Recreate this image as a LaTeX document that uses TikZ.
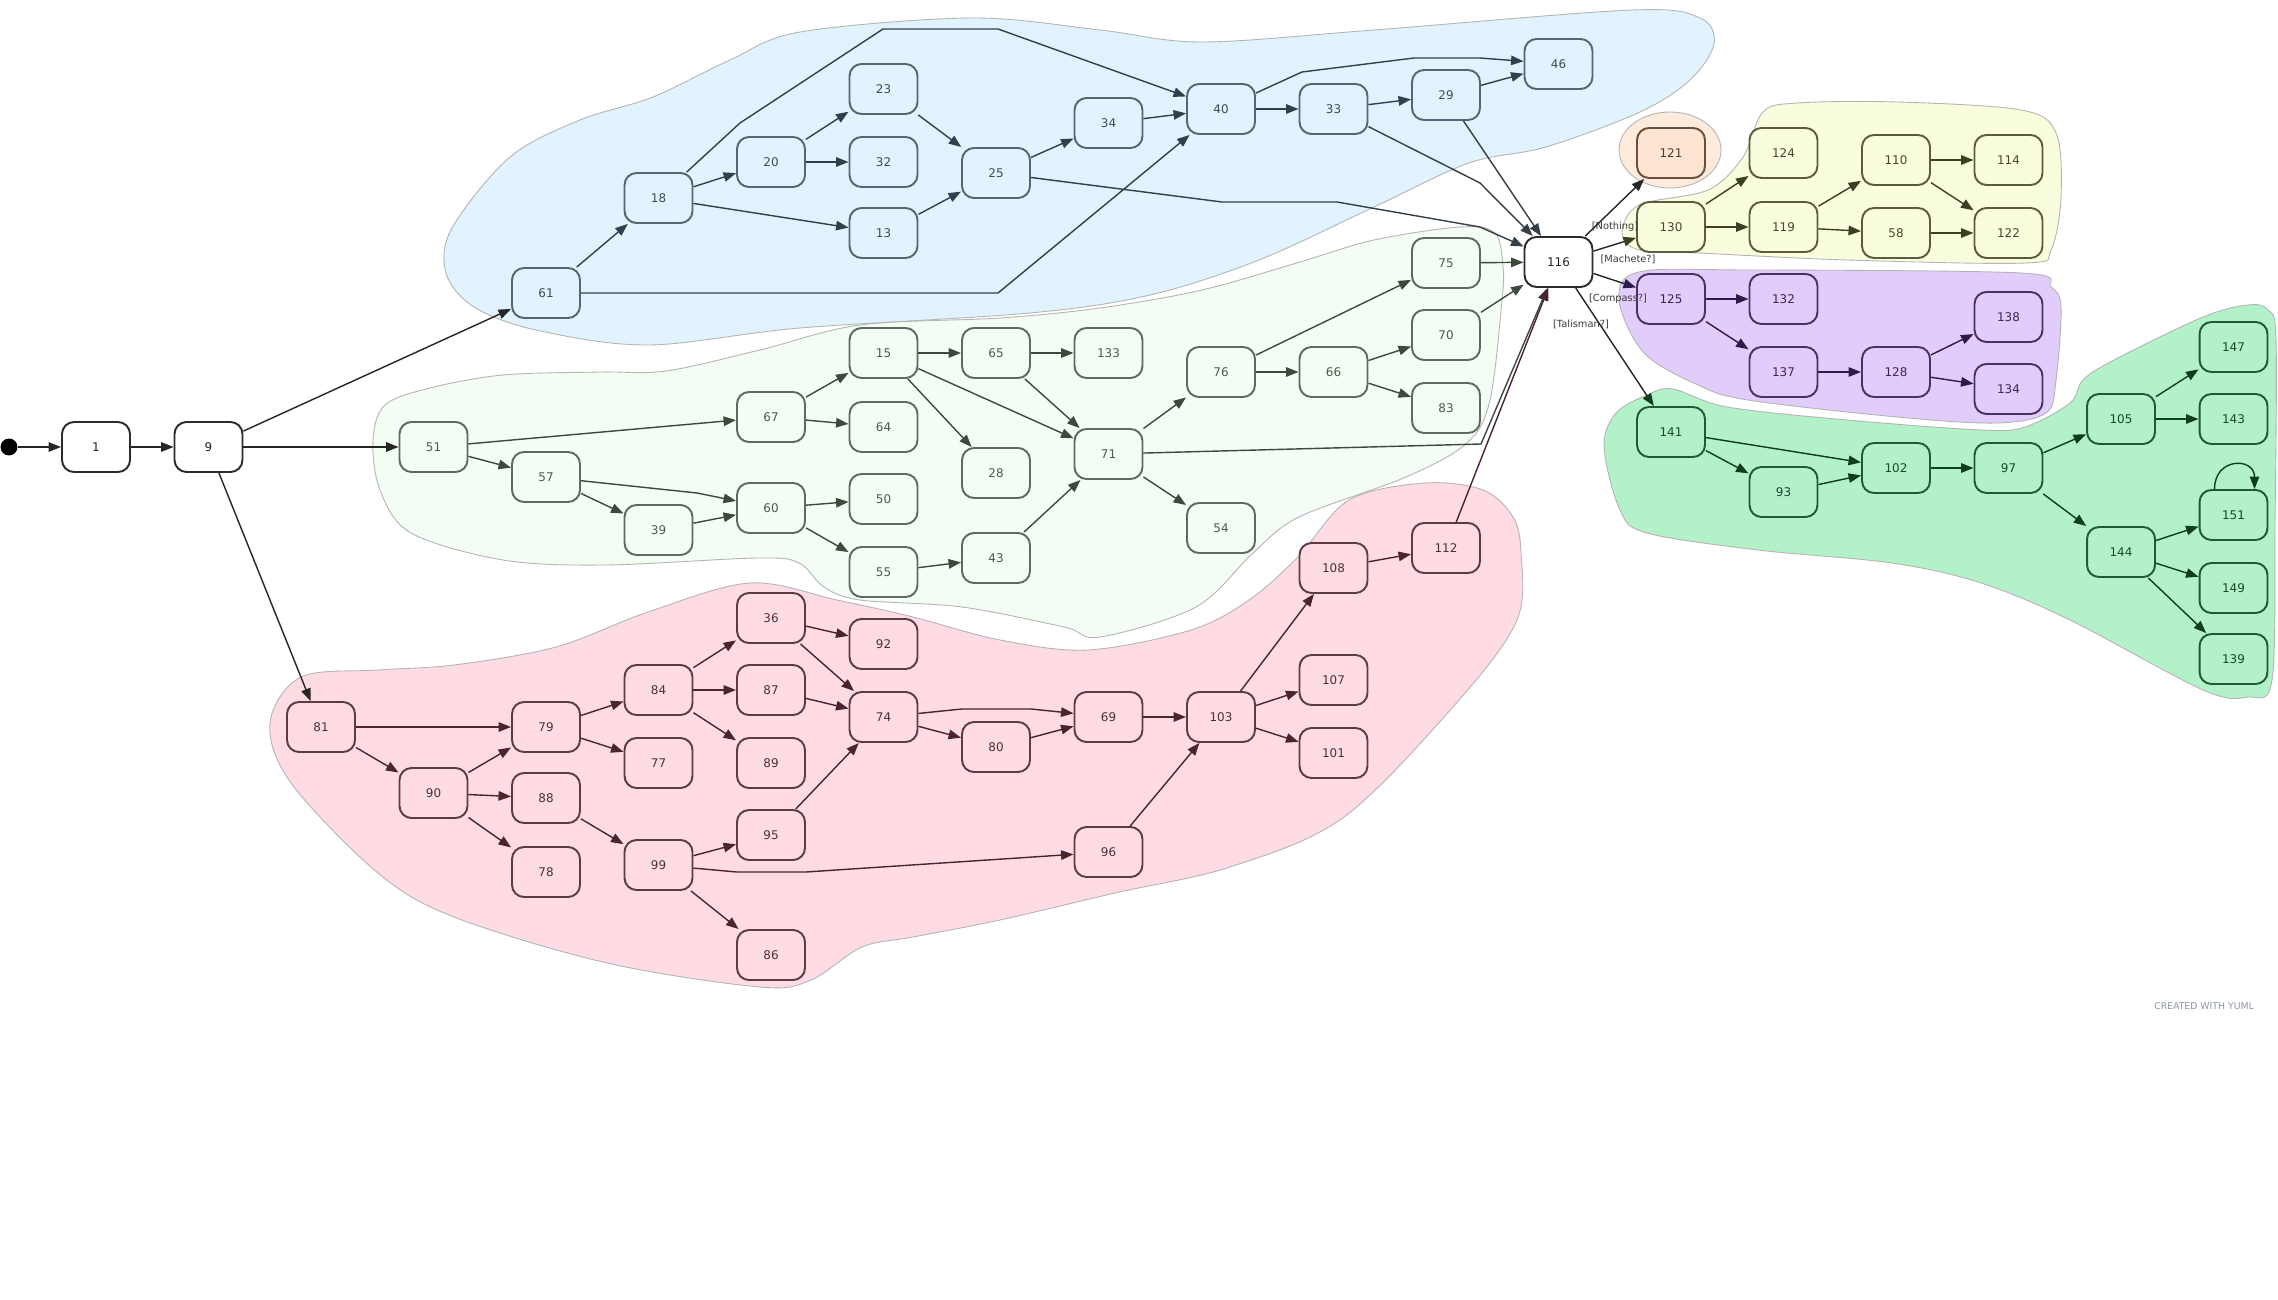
\documentclass[tikz,border=0pt]{standalone}
\usepackage{fontspec}
\setmainfont{DejaVu Sans}
\usepackage{tikz}
\usetikzlibrary{arrows.meta}

\definecolor{mainFill}{HTML}{FFFFFF}
\definecolor{mainLine}{HTML}{2B2B2B}
\definecolor{mainText}{HTML}{222222}
\definecolor{mainEdge}{HTML}{262626}
\definecolor{blueFill}{HTML}{E1F3FE}
\definecolor{blueLine}{HTML}{56656F}
\definecolor{blueText}{HTML}{3E4C56}
\definecolor{blueEdge}{HTML}{33404A}
\definecolor{mintFill}{HTML}{F3FDF3}
\definecolor{mintLine}{HTML}{5E6A5E}
\definecolor{mintText}{HTML}{4D594D}
\definecolor{mintEdge}{HTML}{3E493E}
\definecolor{pinkFill}{HTML}{FFDBE4}
\definecolor{pinkLine}{HTML}{5C3A46}
\definecolor{pinkText}{HTML}{4C3039}
\definecolor{pinkEdge}{HTML}{48252F}
\definecolor{orangeFill}{HTML}{FDE5D2}
\definecolor{orangeBlobFill}{HTML}{FEEBDB}
\definecolor{orangeLine}{HTML}{6B4E3C}
\definecolor{orangeText}{HTML}{4F3A2D}
\definecolor{orangeEdge}{HTML}{3F2A1E}
\definecolor{yellowFill}{HTML}{F9FDDE}
\definecolor{yellowLine}{HTML}{5B5C3D}
\definecolor{yellowText}{HTML}{46472C}
\definecolor{yellowEdge}{HTML}{3C3F22}
\definecolor{purpleFill}{HTML}{E2CCFB}
\definecolor{purpleLine}{HTML}{4A3266}
\definecolor{purpleText}{HTML}{3A2652}
\definecolor{purpleEdge}{HTML}{2D1B4B}
\definecolor{greenFill}{HTML}{B3F2C8}
\definecolor{greenLine}{HTML}{1F5A33}
\definecolor{greenText}{HTML}{184A28}
\definecolor{greenEdge}{HTML}{0F3D1E}
\definecolor{blobLine}{HTML}{B4B4B4}
\definecolor{lblText}{HTML}{3A3A3A}
\definecolor{creditText}{HTML}{8C96A5}

\begin{document}
\begin{tikzpicture}[x=0.02cm, y=-0.02cm,
    box/.style={draw=#1Line, fill=#1Fill, text=#1Text, line width=1.1pt,
        rounded corners=0.24cm, minimum width=1.36cm, minimum height=1cm,
        inner sep=0pt, font=\fontsize{6.8}{8}\selectfont},
    link/.style={draw=#1Edge, line width=0.8pt,
        -{Triangle[length=0.25cm,width=0.19cm]}},
    blob/.style={draw=blobLine, fill=#1Fill, line width=0.5pt},
    lbl/.style={text=lblText, inner sep=0pt, font=\fontsize{5.6}{7}\selectfont},
]
    \fill[white] (0,0) rectangle (2278,1300);
    \useasboundingbox (0,0) rectangle (2278,1300);

    % clusters
    \draw[blob=blue] plot[smooth cycle, tension=0.55] coordinates {
        (446,273) (452,228) (510,157) (580,120) (653,97) (730,60) (800,32)
        (972,18) (1100,30) (1202,42) (1374,30) (1632,10) (1700,18) (1714,44)
        (1690,80) (1640,112) (1546,147) (1469,163) (1374,207) (1259,260)
        (1150,295) (1030,313) (800,328) (648,345) (536,330) (474,307)};
    \draw[blob=mint] plot[smooth cycle, tension=0.55] coordinates {
        (373,440) (385,405) (430,388) (503,375) (600,372) (666,371) (760,350)
        (860,325) (1000,318) (1100,308) (1202,290) (1300,262) (1374,240)
        (1460,227) (1495,233) (1503,267) (1502,300) (1490,400) (1467,443)
        (1406,477) (1299,517) (1253,553) (1196,607) (1100,637) (1064,627)
        (962,607) (860,600) (824,587) (799,563) (758,558) (605,565) (503,560)
        (411,533) (380,490)};
    \draw[blob=pink] plot[smooth cycle, tension=0.55] coordinates {
        (270,723) (301,677) (378,670) (454,665) (556,647) (648,612) (750,583)
        (837,600) (913,617) (1000,640) (1088,650) (1191,630) (1249,600)
        (1298,557) (1349,500) (1425,483) (1483,490) (1513,517) (1521,553)
        (1517,620) (1459,700) (1344,817) (1230,867) (1115,893) (1000,920)
        (913,937) (862,947) (811,980) (760,987) (607,963) (454,917) (378,873)
        (291,783)};
    \draw[blob=orangeBlob] (1670,150) ellipse [x radius=51, y radius=38];
    \draw[blob=yellow] plot[smooth cycle, tension=0.55] coordinates {
        (1622,233) (1639,205) (1708,190) (1743,157) (1763,112) (1798,103)
        (1897,102) (2021,110) (2056,133) (2061,197) (2051,250) (2026,263)
        (1847,260) (1699,253) (1639,250)};
    \draw[blob=purple] plot[smooth cycle, tension=0.55] coordinates {
        (1619,300) (1639,272) (1748,270) (2021,273) (2051,287) (2061,307)
        (2056,380) (2046,413) (1996,423) (1897,417) (1748,400) (1698,385)
        (1644,353)};
    \draw[blob=green] plot[smooth cycle, tension=0.55] coordinates {
        (1604,447) (1616,413) (1647,395) (1673,389) (1727,407) (1847,420)
        (1981,430) (2025,427) (2070,403) (2083,380) (2114,360) (2203,317)
        (2248,305) (2268,310) (2276,340) (2275,523) (2272,680) (2248,697)
        (2203,690) (2070,620) (1981,583) (1892,563) (1758,550) (1647,533)
        (1620,510)};

    % nodes: name/column/y
    \node[circle, fill=black, minimum size=0.34cm, inner sep=0pt] (start) at (9,447) {};
    \foreach \n/\c/\y in {1/0/447, 9/1/447, 116/13/262}
        \node[box=main] (\n) at ({96+112.5*\c},\y) {\n};
    \foreach \n/\c/\y in {61/4/293, 18/5/198, 20/6/162, 23/7/89, 32/7/162,
        13/7/233, 25/8/173, 34/9/123, 40/10/109, 33/11/109, 29/12/95, 46/13/64}
        \node[box=blue] (\n) at ({96+112.5*\c},\y) {\n};
    \foreach \n/\c/\y in {51/3/447, 57/4/477, 39/5/530, 67/6/417, 60/6/508,
        15/7/353, 64/7/427, 50/7/499, 55/7/572, 65/8/353, 28/8/473, 43/8/558,
        133/9/353, 71/9/454, 76/10/372, 54/10/528, 66/11/372, 75/12/263,
        70/12/335, 83/12/408}
        \node[box=mint] (\n) at ({96+112.5*\c},\y) {\n};
    \foreach \n/\c/\y in {81/2/727, 90/3/793, 79/4/727, 88/4/798, 78/4/872,
        84/5/690, 77/5/763, 99/5/865, 36/6/618, 87/6/690, 89/6/763, 95/6/835,
        86/6/955, 92/7/644, 74/7/717, 80/8/747, 69/9/717, 96/9/852, 103/10/717,
        108/11/568, 107/11/680, 101/11/753, 112/12/548}
        \node[box=pink] (\n) at ({96+112.5*\c},\y) {\n};
    \node[box=orange] (121) at ({96+112.5*14},153) {121};
    \foreach \n/\c/\y in {130/14/227, 124/15/153, 119/15/227, 110/16/160,
        58/16/233, 114/17/160, 122/17/233}
        \node[box=yellow] (\n) at ({96+112.5*\c},\y) {\n};
    \foreach \n/\c/\y in {125/14/299, 132/15/299, 137/15/372, 128/16/372,
        138/17/317, 134/17/389}
        \node[box=purple] (\n) at ({96+112.5*\c},\y) {\n};
    \foreach \n/\c/\y in {141/14/432, 93/15/492, 102/16/468, 97/17/468,
        105/18/419, 144/18/552, 147/19/347, 143/19/419, 151/19/515,
        149/19/588, 139/19/659}
        \node[box=green] (\n) at ({96+112.5*\c},\y) {\n};

    % edges
    \foreach \a/\b in {start/1, 1/9, 9/61, 9/51, 9/81}
        \draw[link=main] (\a) -- (\b);
    \foreach \a/\b in {61/18, 18/20, 18/13, 20/23, 20/32, 23/25, 13/25,
        25/34, 34/40, 40/33, 33/29, 29/46, 29/116}
        \draw[link=blue] (\a) -- (\b);
    \draw[link=blue] (18) -- (740,123) -- (883,29) -- (998,29) -- (40);
    \draw[link=blue] (61) -- (998,293) -- (40);
    \draw[link=blue] (25) -- (1222,202) -- (1337,202) -- (1480,227) -- (116);
    \draw[link=blue] (40) -- (1302,72) -- (1414,58) -- (1480,58) -- (46);
    \draw[link=blue] (33) -- (1480,183) -- (116);
    \foreach \a/\b in {51/67, 51/57, 57/39, 39/60, 67/15, 67/64, 60/50,
        60/55, 15/65, 65/133, 15/28, 15/71, 65/71, 55/43, 43/71, 71/76,
        71/54, 76/66, 76/75, 66/70, 66/83, 75/116, 70/116}
        \draw[link=mint] (\a) -- (\b);
    \draw[link=mint] (57) -- (697,493) -- (60);
    \draw[link=mint] (71) -- (1481,444) -- (116);
    \foreach \a/\b in {81/79, 81/90, 90/79, 90/88, 90/78, 79/84, 79/77,
        88/99, 84/36, 84/87, 84/89, 36/92, 36/74, 87/74, 95/74, 99/95, 99/86,
        74/80, 80/69, 69/103, 96/103, 103/108, 103/107, 103/101, 108/112,
        112/116}
        \draw[link=pink] (\a) -- (\b);
    \draw[link=pink] (99) -- (737,872) -- (806,872) -- (96);
    \draw[link=pink] (74) -- (962,709) -- (1031,709) -- (69);

    \draw[link=main] (116) -- (121) node[lbl] (nothingLbl) at (1615,227) {[Nothing]};
    \draw[link=main, -{Triangle[length=0.25cm,width=0.19cm,color=yellowEdge]}]
        (116) -- (130) node[lbl] (macheteLbl) at (1628,259) {[Machete?]};
    \draw[link=main, -{Triangle[length=0.25cm,width=0.19cm,color=purpleEdge]}]
        (116) -- (125) node[lbl] (compassLbl) at (1618,299) {[Compass?]};
    \draw[link=main, -{Triangle[length=0.25cm,width=0.19cm,color=greenEdge]}]
        (116) -- (141) node[lbl] (talismanLbl) at (1581,324) {[Talisman?]};

    \foreach \a/\b in {130/124, 130/119, 119/110, 119/58, 110/114, 110/122, 58/122}
        \draw[link=yellow] (\a) -- (\b);
    \foreach \a/\b in {125/132, 125/137, 137/128, 128/138, 128/134}
        \draw[link=purple] (\a) -- (\b);
    \foreach \a/\b in {141/102, 141/93, 93/102, 102/97, 97/105, 97/144,
        105/147, 105/143, 144/151, 144/149, 144/139}
        \draw[link=green] (\a) -- (\b);
    \draw[link=green] ([xshift=-0.38cm]151.north) .. controls +(0,-32) and +(0,-32) .. ([xshift=0.42cm]151.north);

    \node[text=creditText, font=\fontsize{5.3}{6}\selectfont] (credit) at (2204,1006) {CREATED WITH YUML};
\end{tikzpicture}
\end{document}
